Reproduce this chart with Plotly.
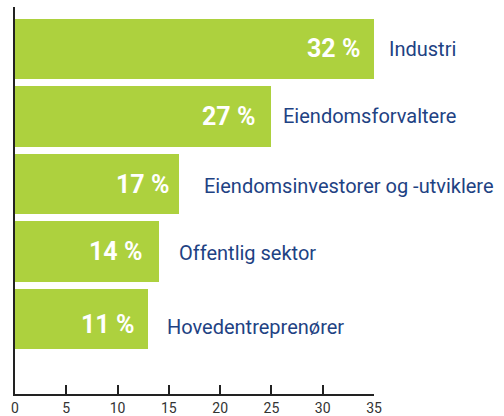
import plotly.graph_objects as go

categories = ["Industri", "Eiendomsforvaltere", "Eiendomsinvestorer og -utviklere",
              "Offentlig sektor", "Hovedentreprenører"]
bar_values = [35, 25, 16, 14, 13]
value_labels = ["32 %", "27 %", "17 %", "14 %", "11 %"]
tick_vals = [0, 5, 10, 15, 20, 25, 30, 35]

positions = list(range(len(categories)))
GREEN = "#add13e"
BLUE = "#1e4283"
FONT = "Roboto"

fig = go.Figure()
fig.add_trace(go.Bar(
    x=bar_values, y=positions, orientation="h",
    marker=dict(color=GREEN, line=dict(width=0)),
    width=0.89, hoverinfo="skip", cliponaxis=False,
))

name_shift = [13, 10, 23, 18, 17]
name_yshift = [0, 0, -2, -1, -8]
val_shift = [-12, -14, -8, -15, -12]
val_yshift = [0, 0, 0, 0, -5]
for i, (cat, v, lab) in enumerate(zip(categories, bar_values, value_labels)):
    fig.add_annotation(x=v, y=i, text=lab, showarrow=False, xanchor="right",
                       xshift=val_shift[i], yshift=val_yshift[i],
                       font=dict(family=FONT, size=25, color="white", weight="bold"))
    fig.add_annotation(x=v, y=i, text=cat, showarrow=False, xanchor="left",
                       xshift=name_shift[i], yshift=name_yshift[i],
                       font=dict(family=FONT, size=20, color=BLUE))

fig.update_layout(
    width=504, height=416,
    margin=dict(l=15, r=130, t=7, b=22, autoexpand=False),
    paper_bgcolor="white", plot_bgcolor="white",
    showlegend=False,
    bargap=0,
    xaxis=dict(range=[0, 35], tickvals=tick_vals, ticks="inside", ticklen=9,
               tickwidth=1.5, tickcolor="#222", showline=True, linecolor="#222",
               linewidth=1.5, showgrid=False, zeroline=False, automargin=False,
               tickfont=dict(family=FONT, size=14, color="#333")),
    yaxis=dict(range=[5.111, -0.622], showticklabels=False, ticks="",
               showline=True, linecolor="#222", linewidth=1.5, automargin=False,
               showgrid=False, zeroline=False),
)
fig.write_html("out.html", config={"displayModeBar": False},
               post_script="document.body.style.margin='0';document.body.style.overflow='hidden';")
